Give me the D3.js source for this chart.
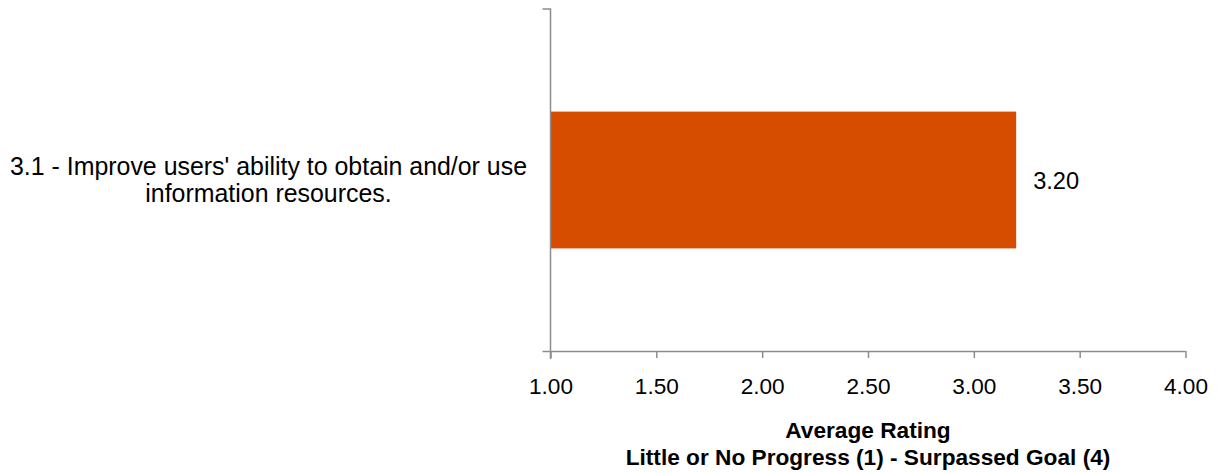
<!DOCTYPE html>
<html>
<head>
<meta charset="utf-8">
<script src="https://cdn.jsdelivr.net/npm/d3@7"></script>
<style>
  html, body { margin: 0; padding: 0; background: #fff; }
  svg text { font-family: "Liberation Sans", Arial, sans-serif; fill: #000; }
</style>
</head>
<body>
<svg id="chart" width="1217" height="473"></svg>
<script>
// ---- data ----
const categories = ["3.1 - Improve users' ability to obtain and/or use information resources."];
const categoryLines = [["3.1 - Improve users' ability to obtain and/or use", "information resources."]];
const values = [3.20];
const xTicks = [1.00, 1.50, 2.00, 2.50, 3.00, 3.50, 4.00];
const xTitle = ["Average Rating", "Little or No Progress (1) - Surpassed Goal (4)"];

// ---- layout ----
const svg = d3.select("#chart");
const mLeft = 550.5, mRight = 1185.5, mTop = 9, mBottom = 351;
const barColor = "#D64D00";
const axisColor = "#8c8c8c";

const x = d3.scaleLinear().domain([1, 4]).range([mLeft, mRight]);
const y = d3.scaleBand().domain(categories).range([mTop, mBottom]).paddingInner(0.6).paddingOuter(0.3);

// fit helper: set font-size so text reaches a target width
function fit(sel, target) {
  sel.each(function() {
    const t = d3.select(this);
    const w = this.getComputedTextLength();
    const fs = parseFloat(t.attr("font-size"));
    t.attr("font-size", (fs * target / w).toFixed(2));
  });
}

// bars
svg.selectAll("rect.bar").data(values).join("rect")
  .attr("class", "bar")
  .attr("x", x(1))
  .attr("y", (d, i) => y(categories[i]))
  .attr("width", d => x(d) - x(1))
  .attr("height", y.bandwidth())
  .attr("fill", barColor);

// x axis
const xAxis = d3.axisBottom(x).tickValues(xTicks).tickFormat(d3.format(".2f")).tickSize(7).tickSizeOuter(0);
const gx = svg.append("g").attr("transform", `translate(0,${mBottom})`).call(xAxis);
gx.select(".domain").attr("stroke", axisColor).attr("stroke-width", 1.5)
  .attr("d", `M${mLeft - 8},0.5H${mRight}`);
gx.selectAll(".tick line").attr("stroke", axisColor).attr("stroke-width", 1.5);
gx.selectAll(".tick text").attr("font-size", 20).attr("y", 0).attr("dy", 0)
  .attr("transform", "translate(0,43)")
  .style("font-family", '"Liberation Sans", Arial, sans-serif').attr("fill", "#000");
fit(gx.selectAll(".tick text"), 44);

// y axis
const yAxis = d3.axisLeft(y).tickSize(0).tickFormat("");
const gy = svg.append("g").attr("transform", `translate(${mLeft},0)`).call(yAxis);
gy.select(".domain").attr("stroke", axisColor).attr("stroke-width", 1.5)
  .attr("d", `M-8,${mTop}H0V${mBottom + 8}`);

// category labels
const catG = svg.append("g");
categories.forEach((c, i) => {
  const cy = y(c) + y.bandwidth() / 2;
  categoryLines[i].forEach((ln, j) => {
    catG.append("text").attr("text-anchor", "middle").attr("x", 268.5)
      .attr("y", cy - 5 + j * 27).attr("font-size", 20).text(ln);
  });
  const firstNode = catG.select("text").node();
  const fs = (20 * 517 / firstNode.getComputedTextLength()).toFixed(2);
  catG.selectAll("text").attr("font-size", fs);
});

// value labels
svg.selectAll("text.val").data(values).join("text")
  .attr("class", "val")
  .attr("x", d => x(d) + 17)
  .attr("y", (d, i) => y(categories[i]) + y.bandwidth() / 2 + 9)
  .attr("font-size", 20)
  .text(d => d3.format(".2f")(d))
  .call(fit, 46);

// axis title
const titleX = (mLeft + mRight) / 2;
const tt1 = svg.append("text").attr("text-anchor", "middle").attr("x", titleX).attr("y", 438)
  .attr("font-weight", "bold").attr("font-size", 20).text(xTitle[0]);
const tt2 = svg.append("text").attr("text-anchor", "middle").attr("x", titleX).attr("y", 465)
  .attr("font-weight", "bold").attr("font-size", 20).text(xTitle[1]);
fit(tt2, 485);
tt1.attr("font-size", tt2.attr("font-size"));
</script>
</body>
</html>
